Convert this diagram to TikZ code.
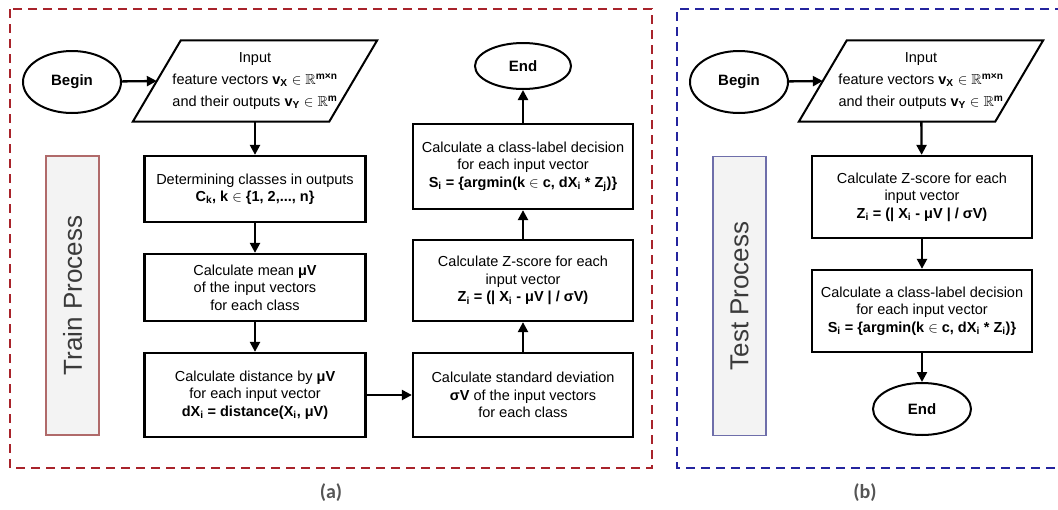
\documentclass[tikz,border=0pt]{standalone}
\usepackage{amsmath}
\usepackage{amssymb}
\usepackage{fontspec}
\setmainfont{Liberation Sans}
\newfontfamily\capfont{Carlito}
\usetikzlibrary{shapes.geometric,arrows.meta,positioning,calc}
\definecolor{trainred}{HTML}{A8232B}
\definecolor{testblue}{HTML}{24249E}
\definecolor{labred}{HTML}{B06A6A}
\definecolor{labblue}{HTML}{6E6EAA}
\definecolor{labfill}{HTML}{F3F3F3}
\definecolor{labtext}{HTML}{3A3A3A}
\definecolor{capgray}{HTML}{555555}

\begin{document}
\begin{tikzpicture}[x=1pt,y=-1pt,font=\fontsize{14.5}{17.5}\selectfont,
stepbox/.style={draw,line width=2.3pt,align=center,inner sep=0pt,minimum width=221pt},
term/.style={draw,ellipse,line width=2pt,inner sep=0pt,font=\fontsize{15}{18}\selectfont\bfseries},
iobox/.style={align=center,inner sep=0pt,minimum width=244pt,minimum height=81pt,font=\fontsize{14.5}{22}\selectfont},
ioline/.style={line width=2pt,line join=miter},
flow/.style={-{Triangle[length=10pt,width=10pt]},line width=2.3pt},
procl/.style={draw,line width=1.1pt,fill=labfill,rotate=90,minimum width=279pt,minimum height=53pt,text=labtext,font=\fontsize{26}{30}\selectfont},
panelframe/.style={line width=2.6pt,dash pattern=on 9pt off 6pt},
capt/.style={text=capgray,font=\capfont\fontsize{20}{24}\selectfont\bfseries}]
\useasboundingbox (0,0) rectangle (1058,509);
\draw[panelframe,trainred] (10,9) rectangle (652,468);
\draw[panelframe,testblue] (1064,9) -- (677,9) -- (677,468) -- (1064,468);
% train
\node[term,minimum width=98pt,minimum height=62pt] (beginA) at (72,82) {Begin};
\node[iobox] (inA) at (255,81) {Input\\ feature vectors \textbf{v\textsubscript{X}} $\in\mathbb{R}^{\textbf{m×n}}$\\ and their outputs \textbf{v\textsubscript{Y}} $\in\mathbb{R}^{\textbf{m}}$};
\draw[ioline] (inA.south west) -- ($(inA.north west)+(48,0)$) -- (inA.north east) -- ($(inA.south east)+(-48,0)$) -- cycle;
\coordinate (inAw) at ($(inA.west)+(24,0)$);
\node[stepbox,minimum height=66pt] (detA) at (255,189) {Determining classes in outputs\\ \textbf{C\textsubscript{k}, k} $\in$ \textbf{\{1, 2,..., n\}}};
\node[stepbox,minimum height=67pt] (meanA) at (255,287.5) {Calculate mean \textbf{μV}\\ of the input vectors\\ for each class};
\node[stepbox,minimum height=84pt] (distA) at (255,395) {Calculate distance by \textbf{μV}\\ for each input vector\\ \textbf{dX\textsubscript{i} = distance(X\textsubscript{i}, μV)}};
\node[stepbox,minimum width=220pt,minimum height=84pt] (stdA) at (523,395) {Calculate standard deviation\\ \textbf{σV} of the input vectors\\ for each class};
\node[stepbox,minimum width=220pt,minimum height=81pt] (zA) at (523,280.5) {Calculate Z-score for each\\ input vector\\ \textbf{Z\textsubscript{i} = (| X\textsubscript{i} - μV | / σV)}};
\node[stepbox,minimum width=220pt,minimum height=85pt] (clsA) at (523,166.5) {Calculate a class-label decision\\ for each input vector\\ \textbf{S\textsubscript{i} = \{argmin(k} $\in$ \textbf{c, dX\textsubscript{i} * Z\textsubscript{j})\}}};
\node[term,minimum width=96pt,minimum height=46pt] (endA) at (523,66) {End};
\node[procl,draw=labred] (labA) at (72.5,295.5) {Train Process};
\draw[flow] (beginA) -- (inAw);
\draw[flow] (inA) -- (detA);
\draw[flow] (detA) -- (meanA);
\draw[flow] (meanA) -- (distA);
\draw[flow] (distA) -- (stdA);
\draw[flow] (stdA) -- (zA);
\draw[flow] (zA) -- (clsA);
\draw[flow] (clsA) -- (endA);
% test
\node[term,minimum width=98pt,minimum height=62pt] (beginB) at (739,82) {Begin};
\node[iobox] (inB) at (921,81) {Input\\ feature vectors \textbf{v\textsubscript{X}} $\in\mathbb{R}^{\textbf{m×n}}$\\ and their outputs \textbf{v\textsubscript{Y}} $\in\mathbb{R}^{\textbf{m}}$};
\draw[ioline] (inB.south west) -- ($(inB.north west)+(48,0)$) -- (inB.north east) -- ($(inB.south east)+(-48,0)$) -- cycle;
\coordinate (inBw) at ($(inB.west)+(24,0)$);
\node[stepbox,minimum width=220pt,minimum height=82pt] (zB) at (922,197) {Calculate Z-score for each\\ input vector\\ \textbf{Z\textsubscript{i} = (| X\textsubscript{i} - μV | / σV)}};
\node[stepbox,minimum width=220pt,minimum height=82pt] (clsB) at (922,311) {Calculate a class-label decision\\ for each input vector\\ \textbf{S\textsubscript{i} = \{argmin(k} $\in$ \textbf{c, dX\textsubscript{i} * Z\textsubscript{i})\}}};
\node[term,minimum width=98pt,minimum height=52pt] (endB) at (922,409) {End};
\node[procl,draw=labblue] (labB) at (739.5,296) {Test Process};
\draw[flow] (beginB) -- (inBw);
\draw[flow] (inB) -- (zB);
\draw[flow] (zB) -- (clsB);
\draw[flow] (clsB) -- (endB);
\node[capt] (capA) at (331,493) {(a)};
\node[capt] (capB) at (865,493) {(b)};
\end{tikzpicture}
\end{document}
